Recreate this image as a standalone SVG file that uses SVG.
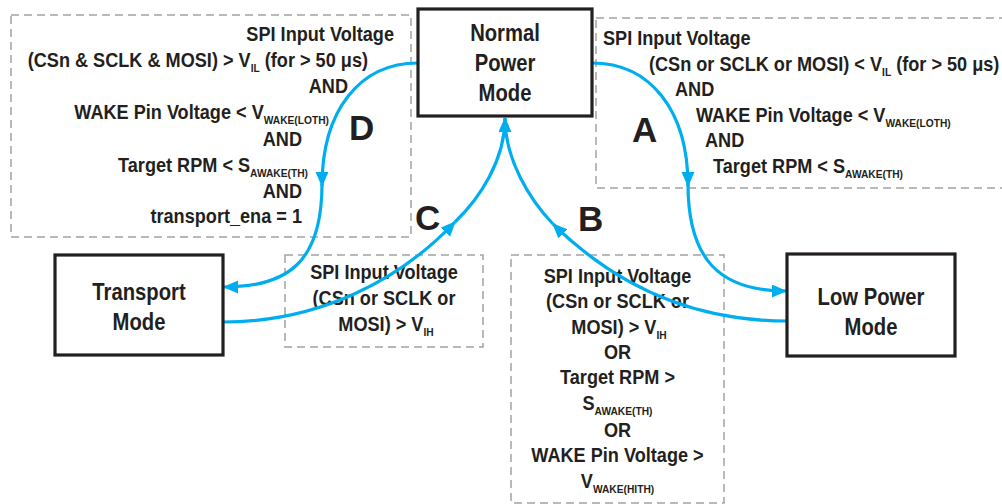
<svg xmlns="http://www.w3.org/2000/svg" width="1002" height="504" viewBox="0 0 1002 504">
<style>
text{font-family:"Liberation Sans",Arial,Helvetica,sans-serif;font-weight:bold;fill:#231f20}
.c{font-size:19.5px}
.n{font-size:23px}
.s{font-size:11px}
.L{font-size:35px}
.dash{fill:none;stroke:#a0a2a5;stroke-width:1.5;stroke-dasharray:8 5}
.box{fill:#fff;stroke:#231f20;stroke-width:3.2}
.con{fill:none;stroke:#00aeef;stroke-width:3.2}
</style>
<defs>
<marker id="ah" markerUnits="userSpaceOnUse" markerWidth="16" markerHeight="14" refX="14" refY="6.5" orient="auto">
<path d="M0,0 L15,6.5 L0,13 Z" fill="#00aeef"/>
</marker>
</defs>
<rect width="1002" height="504" fill="#fff"/>

<g id="cond-D">
<rect class="dash" x="11" y="15" width="400" height="222"/>
<text class="c" text-anchor="end" transform="translate(394,41) scale(0.93,1)">SPI Input Voltage</text>
<text class="c" text-anchor="end" transform="translate(368,67) scale(0.93,1)">(CSn &amp; SCLK &amp; MOSI) &gt; V<tspan class="s" dy="5">IL</tspan><tspan dy="-5"> (for &gt; 50 μs)</tspan></text>
<text class="c" text-anchor="end" transform="translate(348,93) scale(0.93,1)">AND</text>
<text class="c" text-anchor="end" transform="translate(329,119) scale(0.93,1)">WAKE Pin Voltage &lt; V<tspan class="s" dy="5">WAKE(LOTH)</tspan></text>
<text class="c" text-anchor="end" transform="translate(302,146) scale(0.93,1)">AND</text>
<text class="c" text-anchor="end" transform="translate(308,172) scale(0.93,1)">Target RPM &lt; S<tspan class="s" dy="5">AWAKE(TH)</tspan></text>
<text class="c" text-anchor="end" transform="translate(302,198) scale(0.93,1)">AND</text>
<text class="c" text-anchor="end" transform="translate(302,223) scale(0.93,1)">transport_ena = 1</text>
</g>

<g id="cond-A">
<rect class="dash" x="596" y="18" width="420" height="170"/>
<text class="c" transform="translate(603,45) scale(0.93,1)">SPI Input Voltage</text>
<text class="c" transform="translate(649,71) scale(0.93,1)">(CSn or SCLK or MOSI) &lt; V<tspan class="s" dy="5">IL</tspan><tspan dy="-5"> (for &gt; 50 μs)</tspan></text>
<text class="c" transform="translate(675,96) scale(0.93,1)">AND</text>
<text class="c" transform="translate(696,122) scale(0.93,1)">WAKE Pin Voltage &lt; V<tspan class="s" dy="5">WAKE(LOTH)</tspan></text>
<text class="c" transform="translate(705,147) scale(0.93,1)">AND</text>
<text class="c" transform="translate(713,173) scale(0.93,1)">Target RPM &lt; S<tspan class="s" dy="5">AWAKE(TH)</tspan></text>
</g>

<g id="cond-C">
<rect class="dash" x="285" y="255" width="198" height="92"/>
<text class="c" text-anchor="middle" transform="translate(384,279) scale(0.93,1)">SPI Input Voltage</text>
<text class="c" text-anchor="middle" transform="translate(384,305) scale(0.93,1)">(CSn or SCLK or</text>
<text class="c" text-anchor="middle" transform="translate(386,331) scale(0.93,1)">MOSI) &gt; V<tspan class="s" dy="5">IH</tspan></text>
</g>

<g id="cond-B">
<rect class="dash" x="511" y="255" width="213" height="248"/>
<text class="c" text-anchor="middle" transform="translate(617.5,283) scale(0.93,1)">SPI Input Voltage</text>
<text class="c" text-anchor="middle" transform="translate(617.5,308) scale(0.93,1)">(CSn or SCLK or</text>
<text class="c" text-anchor="middle" transform="translate(619,334) scale(0.93,1)">MOSI) &gt; V<tspan class="s" dy="5">IH</tspan></text>
<text class="c" text-anchor="middle" transform="translate(617.5,359) scale(0.93,1)">OR</text>
<text class="c" text-anchor="middle" transform="translate(617.5,384) scale(0.93,1)">Target RPM &gt;</text>
<text class="c" text-anchor="middle" transform="translate(617.5,410) scale(0.93,1)">S<tspan class="s" dy="5">AWAKE(TH)</tspan></text>
<text class="c" text-anchor="middle" transform="translate(617.5,437) scale(0.93,1)">OR</text>
<text class="c" text-anchor="middle" transform="translate(617.5,462) scale(0.93,1)">WAKE Pin Voltage &gt;</text>
<text class="c" text-anchor="middle" transform="translate(617.5,488) scale(0.93,1)">V<tspan class="s" dy="5">WAKE(HITH)</tspan></text>
</g>

<g id="connectors">
<path class="con" d="M592,63 C650,63 688,110 688,186" marker-end="url(#ah)"/>
<path class="con" d="M688,184 C688,260 720,291 786,291" marker-end="url(#ah)"/>
<path class="con" d="M418,63 C360,63 322,110 322,186" marker-end="url(#ah)"/>
<path class="con" d="M322,184 C322,260 290,287 224,287" marker-end="url(#ah)"/>
<path class="con" d="M787,321 C700,321 620,290 553,224" marker-end="url(#ah)"/>
<path class="con" d="M223,322 C320,322 400,280 455,222" marker-end="url(#ah)"/>
<path class="con" d="M553,224 C530,200 505,160 505,118" marker-end="url(#ah)"/>
<path class="con" d="M455,222 C480,198 505,160 505,118"/>
</g>

<g id="labels">
<text class="L" x="632" y="142">A</text>
<text class="L" x="578" y="231">B</text>
<text class="L" x="415" y="230">C</text>
<text class="L" x="349" y="140">D</text>
</g>

<g id="node-normal">
<rect class="box" x="418" y="9" width="174" height="107"/>
<text class="n" text-anchor="middle" transform="translate(505,41) scale(0.88,1)">Normal</text>
<text class="n" text-anchor="middle" transform="translate(505,71) scale(0.88,1)">Power</text>
<text class="n" text-anchor="middle" transform="translate(505,101) scale(0.88,1)">Mode</text>
</g>

<g id="node-transport">
<rect class="box" x="55" y="255" width="168" height="100"/>
<text class="n" text-anchor="middle" transform="translate(139,300) scale(0.88,1)">Transport</text>
<text class="n" text-anchor="middle" transform="translate(139,330) scale(0.88,1)">Mode</text>
</g>

<g id="node-lowpower">
<rect class="box" x="787" y="254" width="168" height="102"/>
<text class="n" text-anchor="middle" transform="translate(871,305) scale(0.88,1)">Low Power</text>
<text class="n" text-anchor="middle" transform="translate(871,335) scale(0.88,1)">Mode</text>
</g>
</svg>
